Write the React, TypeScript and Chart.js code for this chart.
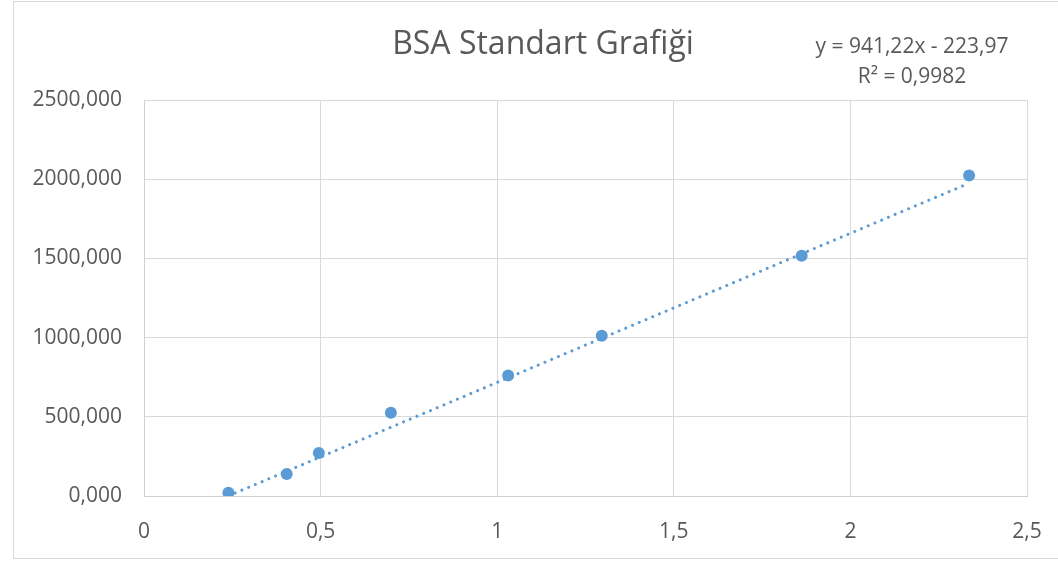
import React, { useEffect, useRef } from "react";
import { Chart, registerables } from "chart.js";

Chart.register(...registerables);

const absorbance: number[] = [0.239, 0.404, 0.495, 0.699, 1.031, 1.296, 1.862, 2.336];
const concentration: number[] = [20, 139, 271, 525, 760, 1011, 1517, 2024];
const xTickValues: number[] = [0, 0.5, 1, 1.5, 2, 2.5];
const xTickLabels: string[] = ["0", "0,5", "1", "1,5", "2", "2,5"];
const yTickValues: number[] = [0, 500, 1000, 1500, 2000, 2500];
const yTickLabels: string[] = ["0,000", "500,000", "1000,000", "1500,000", "2000,000", "2500,000"];
const trendSlope = 941.22;
const trendIntercept = -223.97;
const chartTitle = "BSA Standart Grafiği";
const equationText = "y = 941,22x - 223,97";
const r2Text = "R² = 0,9982";

const FONT = "'Open Sans', sans-serif";
const TEXT_COLOR = "#595959";
const BLUE = "#5B9BD5";

export default function App() {
  const canvasRef = useRef<HTMLCanvasElement | null>(null);

  useEffect(() => {
    if (!canvasRef.current) return;
    const xMin = absorbance[0];
    const xMax = absorbance[absorbance.length - 1];
    const trendData = [
      { x: xMin, y: trendSlope * xMin + trendIntercept },
      { x: xMax, y: trendSlope * xMax + trendIntercept },
    ];
    const points = absorbance.map((x, i) => ({ x, y: concentration[i] }));

    const textPlugin = {
      id: "textPlugin",
      afterDraw(chart: any) {
        const ctx = chart.ctx;
        ctx.save();
        ctx.fillStyle = TEXT_COLOR;
        ctx.textAlign = "center";
        ctx.textBaseline = "alphabetic";
        ctx.font = `32px ${FONT}`;
        ctx.fillText(chartTitle, 543, 54);
        ctx.font = `21px ${FONT}`;
        ctx.fillText(equationText, 912, 53);
        ctx.fillText(r2Text, 912, 83);
        ctx.restore();
      },
    };

    const chart = new Chart(canvasRef.current, {
      type: "scatter",
      data: {
        datasets: [
          {
            label: "BSA",
            data: points,
            backgroundColor: BLUE,
            borderColor: BLUE,
            pointRadius: 6,
            pointBorderWidth: 0,
            order: 0,
          },
          {
            label: "Trend",
            type: "line",
            data: trendData,
            borderColor: BLUE,
            borderWidth: 3,
            borderDash: [0.01, 7.3],
            borderCapStyle: "round",
            pointRadius: 0,
            fill: false,
            order: 1,
          } as any,
        ],
      },
      options: {
        responsive: false,
        animation: false,
        devicePixelRatio: 1,
        layout: { autoPadding: false, padding: { left: 14, right: 31, top: 100, bottom: 0 } },
        plugins: {
          legend: { display: false },
          title: { display: false },
          tooltip: { enabled: false },
        },
        scales: {
          x: {
            type: "linear",
            min: 0,
            max: 2.5,
            afterFit: (s: any) => {
              s.height = 65;
              s.paddingLeft = 0;
              s.paddingRight = 0;
            },
            afterBuildTicks: (s: any) => {
              s.ticks = xTickValues.map((v) => ({ value: v }));
            },
            grid: { color: "#D9D9D9", lineWidth: 1, drawTicks: false },
            border: { color: "#D0D0D0", width: 1 },
            ticks: {
              padding: 23,
              color: TEXT_COLOR,
              font: { family: FONT, size: 21 },
              maxRotation: 0,
              callback: (v: any) => {
                const i = xTickValues.indexOf(Number(v));
                return i >= 0 ? xTickLabels[i] : "";
              },
            },
          },
          y: {
            type: "linear",
            min: 0,
            max: 2500,
            afterFit: (s: any) => {
              s.width = 130;
              s.paddingTop = 0;
              s.paddingBottom = 0;
            },
            afterBuildTicks: (s: any) => {
              s.ticks = yTickValues.map((v) => ({ value: v }));
            },
            grid: { color: "#D9D9D9", lineWidth: 1, drawTicks: false },
            border: { color: "#D0D0D0", width: 1 },
            ticks: {
              padding: 22,
              color: TEXT_COLOR,
              font: { family: FONT, size: 21 },
              callback: (v: any) => {
                const i = yTickValues.indexOf(Number(v));
                return i >= 0 ? yTickLabels[i] : "";
              },
            },
          },
        },
      },
      plugins: [textPlugin],
    });
    return () => chart.destroy();
  }, []);

  return (
    <div style={{ position: "fixed", left: 0, top: 0, width: 1058, height: 561, background: "#fff", overflow: "hidden" }}>
      <div
        style={{
          position: "absolute",
          left: 13,
          top: 1,
          width: 1100,
          height: 558,
          boxSizing: "border-box",
          border: "1px solid #D9D9D9",
        }}
      />
      <canvas ref={canvasRef} width={1058} height={561} style={{ position: "absolute", left: 0, top: 0 }} />
    </div>
  );
}
